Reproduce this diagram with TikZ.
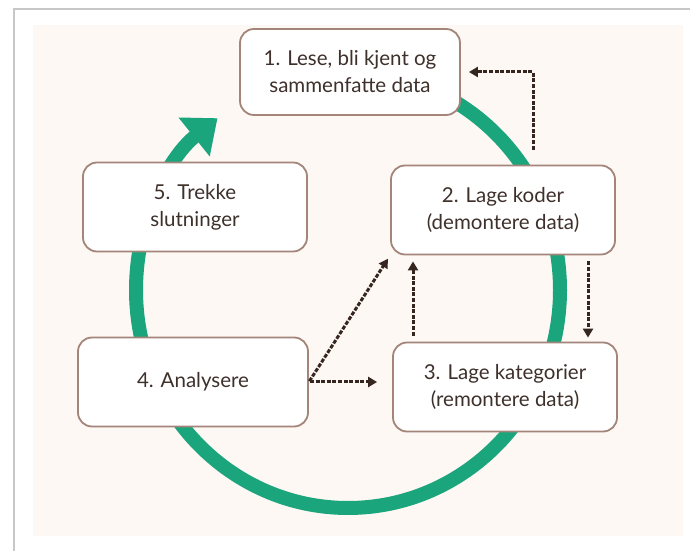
\documentclass[tikz,border=0pt]{standalone}
\usepackage{fontspec}
\setmainfont{Lato}
\usetikzlibrary{arrows.meta}
\definecolor{ringgreen}{HTML}{1BA57C}
\definecolor{boxline}{HTML}{A3857A}
\definecolor{txtbrown}{HTML}{3E302B}
\definecolor{dashbrown}{HTML}{35261F}
\definecolor{paper}{HTML}{FDF8F4}
\tikzset{
  stage/.style={draw=boxline,line width=1.8pt,rounded corners=14pt,fill=white,text=txtbrown,
    align=center,font=\fontsize{20.5}{27}\selectfont,inner sep=0pt,minimum width=224pt,minimum height=89pt},
  flow/.style={draw=dashbrown,line width=3pt,dash pattern=on 4pt off 1.6pt,
    -{Triangle[length=9pt,width=10pt]},shorten >=6pt,shorten <=6pt},
}

\begin{document}
\begin{tikzpicture}[x=1pt,y=1pt]
\useasboundingbox (0,0) rectangle (690,551);
\fill[white] (0,0) rectangle (690,551);
% card and its shadow
\draw[black!22,line width=2pt] (14,0) -- (14,542) -- (690,542);
\fill[paper] (33,15) rectangle (683,526);
% the cycle
\draw[ringgreen,line width=14pt,-{Triangle[length=30pt,width=48pt]}] (348,479) arc[start angle=90,end angle=-232,x radius=212,y radius=218];
\node[stage,minimum width=220pt,minimum height=86pt] (lese) at (350,479) {1. Lese, bli kjent og\\sammenfatte data};
\node[stage] (koder) at (503,341) {2. Lage koder\\(demontere data)};
\node[stage] (kategorier) at (505,164) {3. Lage kategorier\\(remontere data)};
\node[stage,minimum width=230pt] (analyse) at (193,169) {4. Analysere};
\node[stage] (slutning) at (195,344) {5. Trekke\\slutninger};
% dotted links
\draw[flow,shorten <=15pt,shorten >=8pt] ([xshift=30pt]koder.north) |- (lese.east);
\draw[flow,shorten >=4pt] ([xshift=85pt]koder.south) -- ([xshift=85pt]koder.south |- kategorier.north);
\draw[flow] ([xshift=-92pt]kategorier.north) -- ([xshift=-92pt]kategorier.north |- koder.south);
\draw[flow,shorten <=1pt,shorten >=15pt] (analyse.east) -- (analyse.east -| kategorier.west);
\draw[flow,shorten <=1pt,shorten >=4pt] (analyse.east) -- (koder.south west);
\end{tikzpicture}
\end{document}
